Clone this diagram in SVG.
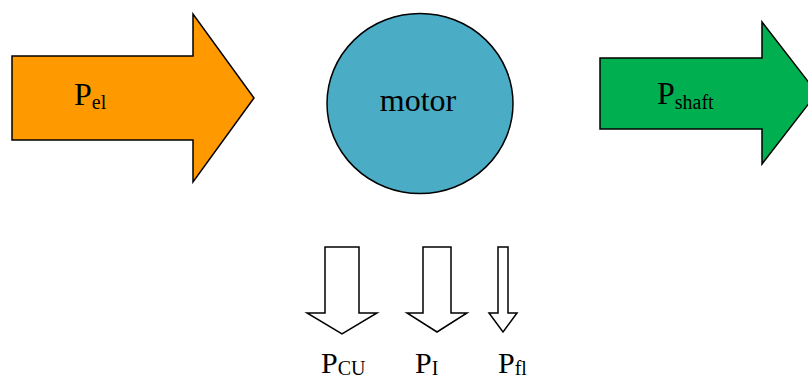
<svg xmlns="http://www.w3.org/2000/svg" width="808" height="379" viewBox="0 0 808 379">
<style>
.s{stroke:#000;stroke-width:1.5;stroke-linejoin:miter}
.t{font-family:"Liberation Serif","Times New Roman",serif;fill:#000}
.big{font-size:32px}
.mid{font-size:30px}
.sub{font-size:20px}
</style>
<rect width="808" height="379" fill="#fff"/>
<g id="pel">
<polygon class="s" fill="#FF9900" points="12,56 193,56 193,14 254,98 193,182 193,140 12,140"/>
<text class="t big" x="74" y="105">P<tspan class="sub" dy="4">el</tspan></text>
</g>
<g id="motor">
<ellipse class="s" fill="#4BACC6" cx="420" cy="103.5" rx="93" ry="90"/>
<text class="t big" x="418" y="111" text-anchor="middle">motor</text>
</g>
<g id="pshaft">
<polygon class="s" fill="#00B050" points="600,58 762,58 762,22 817,93 762,164 762,129 600,129"/>
<text class="t big" x="657" y="104">P<tspan class="sub" dy="5">shaft</tspan></text>
</g>
<g id="pcu">
<polygon class="s" fill="#fff" points="325,247 359,247 359,313 377,313 342,334 307,313 325,313"/>
<text class="t mid" x="321" y="373">P<tspan class="sub" dy="2">CU</tspan></text>
</g>
<g id="pi">
<polygon class="s" fill="#fff" points="423,247 451,247 451,313 467,313 437,332 407,313 423,313"/>
<text class="t mid" x="415" y="373">P<tspan class="sub" dy="2">I</tspan></text>
</g>
<g id="pfl">
<polygon class="s" fill="#fff" points="498,247 508,247 508,313 517,313 503,332 489,313 498,313"/>
<text class="t mid" x="498" y="373">P<tspan class="sub" dy="2">fl</tspan></text>
</g>
<g id="connectors"></g>
</svg>
